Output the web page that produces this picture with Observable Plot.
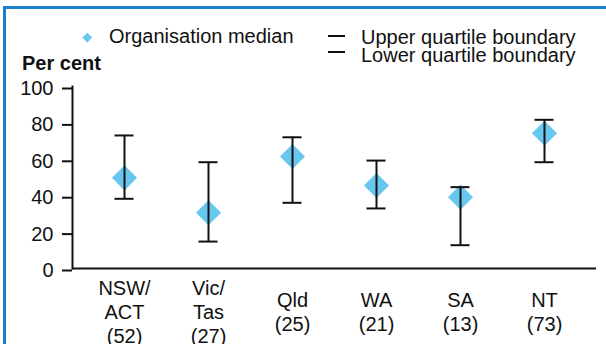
<!DOCTYPE html>
<html>
<head>
<meta charset="utf-8">
<script src="https://cdn.jsdelivr.net/npm/d3@7"></script>
<script src="https://cdn.jsdelivr.net/npm/@observablehq/plot@0.6"></script>
<style>
  html, body { margin: 0; padding: 0; background: #fff; }
  body { width: 606px; height: 344px; position: relative; overflow: hidden;
         font-family: "Liberation Sans", Arial, sans-serif; color: #111; }
  #frame { position: absolute; left: 3px; top: 6px; right: 0; bottom: 0;
           border-left: 3px solid #1b80c8; border-top: 3px solid #1b80c8; }
  .lg { position: absolute; font-size: 20px; line-height: 20px; white-space: nowrap; }
  #chart { position: absolute; left: 0; top: 74px; line-height: 0; }
  #chart svg { display: block; }
</style>
</head>
<body>
<div id="frame"></div>
<div class="lg" style="left:83.5px;top:34.2px;width:6.5px;height:6.5px;background:#68c7ee;transform:rotate(45deg);"></div>
<div class="lg" style="left:109px;top:25.8px;">Organisation median</div>
<div class="lg" style="left:328px;top:35px;width:17px;height:2px;background:#111;"></div>
<div class="lg" style="left:328px;top:50.7px;width:17px;height:2px;background:#111;"></div>
<div class="lg" style="left:361px;top:27px;">Upper quartile boundary</div>
<div class="lg" style="left:361px;top:44.8px;">Lower quartile boundary</div>
<div class="lg" style="left:22px;top:53px;font-weight:bold;">Per cent</div>
<div id="chart"></div>
<script>
const regions = ["NSW/ACT", "Vic/Tas", "Qld", "WA", "SA", "NT"];
const tickLabels = ["NSW/\nACT\n(52)", "Vic/\nTas\n(27)", "Qld\n(25)", "WA\n(21)", "SA\n(13)", "NT\n(73)"];
const medians = [49.8, 30.6, 61.5, 45.6, 39.2, 74.3];
const upperQ = [73.1, 58.4, 72.1, 59.3, 44.7, 81.7];
const lowerQ = [38.3, 14.8, 36.1, 33.0, 12.8, 58.4];
const yTicks = [0, 20, 40, 60, 80, 100];

const data = regions.map((r, i) => ({
  region: r, label: tickLabels[i], median: medians[i], upper: upperQ[i], lower: lowerQ[i]
}));

const chart = Plot.plot({
  width: 606,
  height: 270,
  marginTop: 12,
  marginBottom: 76,
  marginLeft: 72,
  marginRight: 10,
  style: { fontFamily: '"Liberation Sans", Arial, sans-serif', fontSize: "20px", color: "#111", background: "transparent", overflow: "visible" },
  x: { type: "band", domain: regions, paddingInner: 0, paddingOuter: 0.117, axis: null },
  y: { domain: [0, 100], axis: null },
  marks: [
    Plot.axisY({ ticks: yTicks, tickSize: 10, tickPadding: 9, strokeWidth: 2, dy: 2, fontSize: 20, label: null }),
    Plot.frame({ anchor: "left", strokeWidth: 2, stroke: "#111" }),
    Plot.ruleY([0], { stroke: "#111", strokeWidth: 2 }),
    Plot.dot(data, { x: "region", y: "median", symbol: "diamond2", r: 11.3, fill: "#68c7ee", stroke: "none" }),
    Plot.ruleX(data, { x: "region", y1: "lower", y2: "upper", stroke: "#111", strokeWidth: 2 }),
    Plot.tickY(data, { x: "region", y: "upper", stroke: "#111", strokeWidth: 2, insetLeft: 32.5, insetRight: 32.5 }),
    Plot.tickY(data, { x: "region", y: "lower", stroke: "#111", strokeWidth: 2, insetLeft: 32.5, insetRight: 32.5 }),
    Plot.text(data, { x: "region", text: "label", frameAnchor: "bottom", dy: 43, lineAnchor: "middle", lineHeight: 1.2, fontSize: 20, fill: "#111" })
  ]
});
document.getElementById("chart").appendChild(chart);
</script>
</body>
</html>
